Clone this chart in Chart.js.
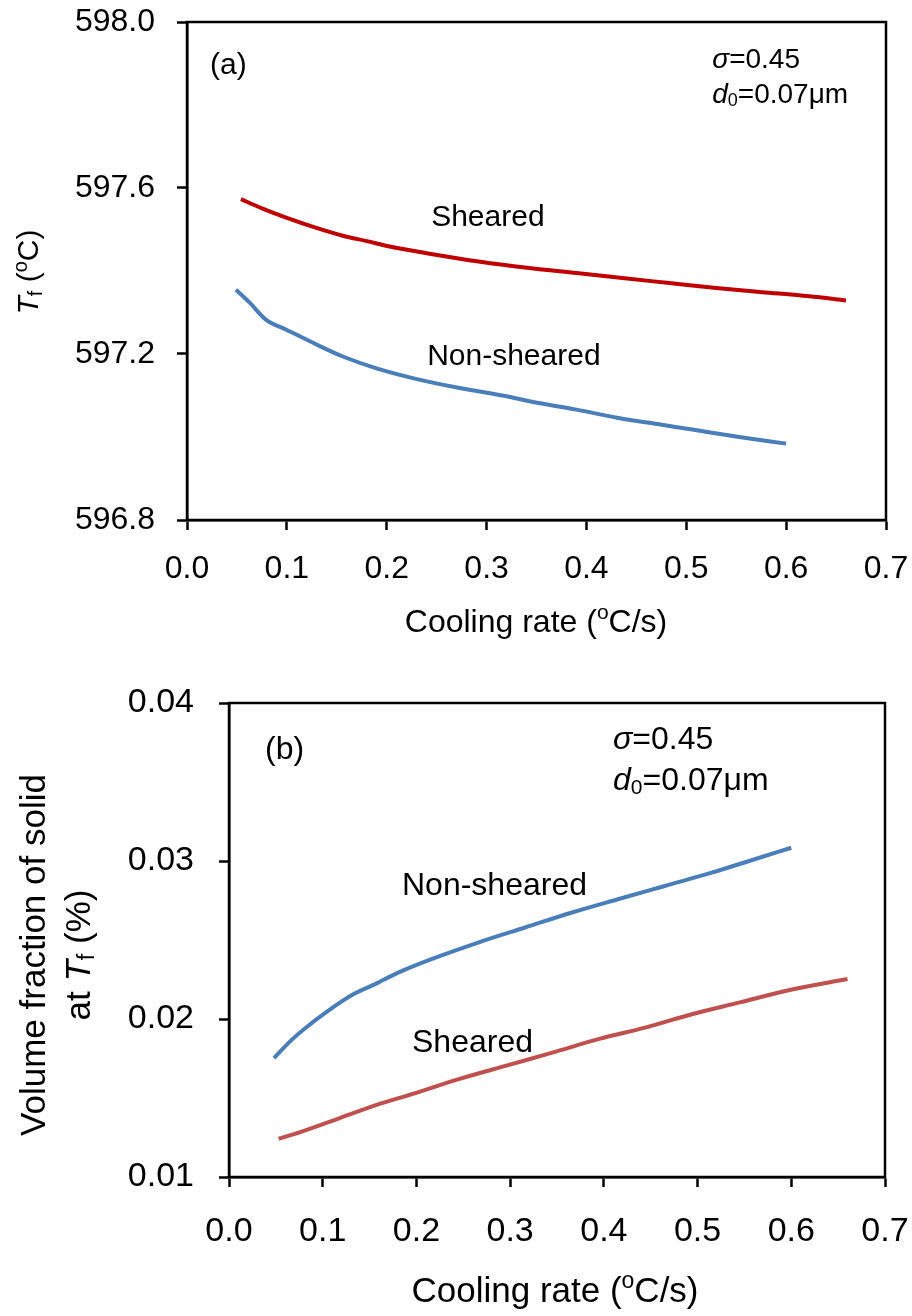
<!DOCTYPE html>
<html>
<head>
<meta charset="utf-8">
<script src="https://cdn.jsdelivr.net/npm/chart.js@4.4.1/dist/chart.umd.min.js"></script>
<style>
  html, body { margin: 0; padding: 0; background: #fff; }
  #wrap { position: relative; width: 912px; height: 1316px; }
  .panel { position: absolute; left: 0; width: 912px; }
  #panelA { top: 0; height: 650px; }
  #panelB { top: 650px; height: 666px; }
</style>
</head>
<body>
<div id="wrap">
  <div class="panel" id="panelA"><canvas id="chartA" width="912" height="650"></canvas></div>
  <div class="panel" id="panelB"><canvas id="chartB" width="912" height="666"></canvas></div>
</div>
<script>
// (a) freezing temperature vs cooling rate
const rateShearedA = [0.054, 0.075, 0.100, 0.128, 0.156, 0.180, 0.203, 0.240, 0.292, 0.343, 0.390, 0.436, 0.483, 0.530, 0.576, 0.623, 0.660];
const tfSheared = [597.573, 597.551, 597.528, 597.505, 597.485, 597.472, 597.459, 597.443, 597.423, 597.407, 597.395, 597.383, 597.371, 597.359, 597.349, 597.339, 597.329];
const rateNonShearedA = [0.049, 0.063, 0.079, 0.100, 0.133, 0.156, 0.189, 0.226, 0.273, 0.320, 0.343, 0.390, 0.432, 0.474, 0.506, 0.553, 0.600];
const tfNonSheared = [597.355, 597.323, 597.283, 597.258, 597.219, 597.194, 597.166, 597.142, 597.118, 597.098, 597.086, 597.066, 597.046, 597.030, 597.018, 597.000, 596.984];

// (b) volume fraction of solid at Tf vs cooling rate
const rateNonShearedB = [0.048, 0.066, 0.078, 0.106, 0.133, 0.156, 0.181, 0.216, 0.266, 0.316, 0.366, 0.415, 0.465, 0.515, 0.555, 0.600];
const fsNonSheared = [0.01752, 0.01863, 0.01926, 0.02053, 0.02158, 0.02221, 0.02295, 0.02379, 0.02484, 0.02579, 0.02674, 0.02758, 0.02842, 0.02926, 0.03000, 0.03084];
const rateShearedB = [0.053, 0.076, 0.116, 0.156, 0.196, 0.246, 0.296, 0.346, 0.395, 0.445, 0.495, 0.545, 0.595, 0.660];
const fsSheared = [0.01242, 0.01284, 0.01368, 0.01453, 0.01526, 0.01621, 0.01705, 0.01789, 0.01874, 0.01947, 0.02032, 0.02105, 0.02179, 0.02253];

// tick labels
const rateTicks = [0, 0.1, 0.2, 0.3, 0.4, 0.5, 0.6, 0.7];
const tfTicks = [596.8, 597.2, 597.6, 598.0];
const fsTicks = [0.01, 0.02, 0.03, 0.04];

const fontFamily = '"Liberation Sans", Arial, sans-serif';
const pairs = (xs, ys) => xs.map((x, i) => ({ x: x, y: ys[i] }));

// draws a string made of runs (italic / subscript / superscript)
function drawRich(ctx, x, y, it) {
  const size = it.size;
  const fontFor = r => (r.italic ? 'italic ' : '') + Math.round((r.sub || r.sup) ? size * 0.65 : size) + 'px ' + fontFamily;
  ctx.save();
  ctx.translate(x, y);
  if (it.rotate) ctx.rotate(it.rotate);
  ctx.fillStyle = '#000';
  ctx.textBaseline = 'middle';
  ctx.textAlign = 'left';
  let w = 0;
  it.runs.forEach(r => { ctx.font = fontFor(r); w += ctx.measureText(r.t).width; });
  let cx = it.align === 'center' ? -w / 2 : 0;
  it.runs.forEach(r => {
    ctx.font = fontFor(r);
    const dy = r.sub ? size * 0.22 : (r.sup ? -size * 0.3 : 0);
    ctx.fillText(r.t, cx, dy);
    cx += ctx.measureText(r.t).width;
  });
  ctx.restore();
}

// frame round the plot area plus titles and notes
function paperText(items) {
  return {
    id: 'paperText',
    afterDraw(chart) {
      const ctx = chart.ctx;
      const a = chart.chartArea;
      ctx.save();
      ctx.strokeStyle = '#000';
      ctx.lineWidth = 2.5;
      ctx.strokeRect(a.left, a.top, a.right - a.left, a.bottom - a.top);
      ctx.restore();
      items.forEach(it => {
        let x = it.px ? it.px[0] : chart.scales.x.getPixelForValue(it.at[0]);
        let y = it.px ? it.px[1] : chart.scales.y.getPixelForValue(it.at[1]);
        drawRich(ctx, x, y, it);
      });
    }
  };
}

function scaleOpts(min, max, list, digits, fontSize, pad, fit, isX) {
  return {
    type: 'linear',
    min: min,
    max: max,
    afterBuildTicks: ax => { ax.ticks = list.map(v => ({ value: v })); },
    afterFit: ax => {
      if (isX) ax.height = fit; else ax.width = fit;
      // keep the plot box where it is, labels may hang over the edges
      ax.paddingTop = 0; ax.paddingBottom = 0; ax.paddingLeft = 0; ax.paddingRight = 0;
    },
    ticks: {
      color: '#000',
      padding: pad,
      font: { family: fontFamily, size: fontSize },
      callback: v => Number(v).toFixed(digits)
    },
    grid: { display: true, drawOnChartArea: false, drawTicks: true, tickLength: 10, tickWidth: 2.5, tickColor: '#000' },
    border: { display: true, color: '#000', width: 2.5 }
  };
}

function lineSet(label, data, color) {
  return { label: label, data: data, borderColor: color, borderWidth: 4, pointRadius: 0, fill: false, cubicInterpolationMode: 'monotone' };
}

const common = {
  responsive: false,
  animation: false,
  devicePixelRatio: 1,
  plugins: { legend: { display: false }, tooltip: { enabled: false } }
};

const cooling = [{ t: 'Cooling rate (' }, { t: 'o', sup: true }, { t: 'C/s)' }];

new Chart(document.getElementById('chartA'), {
  type: 'line',
  data: {
    datasets: [
      lineSet('Sheared', pairs(rateShearedA, tfSheared), '#C00000'),
      lineSet('Non-sheared', pairs(rateNonShearedA, tfNonSheared), '#4A7EBB')
    ]
  },
  options: Object.assign({}, common, {
    layout: { padding: { top: 22, right: 26, left: 0, bottom: 0 } },
    scales: {
      x: scaleOpts(0, 0.7, rateTicks, 1, 32, 20, 130, true),
      y: scaleOpts(596.8, 598.0, tfTicks, 1, 32, 22, 187, false)
    }
  }),
  plugins: [paperText([
    { at: [0.023, 597.894], size: 30, runs: [{ t: '(a)' }] },
    { at: [0.526, 597.908], size: 28, runs: [{ t: 'σ', italic: true }, { t: '=0.45' }] },
    { at: [0.526, 597.824], size: 28, runs: [{ t: 'd', italic: true }, { t: '0', sub: true }, { t: '=0.07μm' }] },
    { at: [0.2445, 597.528], size: 30, runs: [{ t: 'Sheared' }] },
    { at: [0.2405, 597.193], size: 30, runs: [{ t: 'Non-sheared' }] },
    { px: [536, 623], size: 32, align: 'center', runs: cooling },
    { px: [30, 272], size: 30, align: 'center', rotate: -Math.PI / 2,
      runs: [{ t: 'T', italic: true }, { t: 'f', sub: true }, { t: ' (' }, { t: 'o', sup: true }, { t: 'C)' }] }
  ])]
});

new Chart(document.getElementById('chartB'), {
  type: 'line',
  data: {
    datasets: [
      lineSet('Non-sheared', pairs(rateNonShearedB, fsNonSheared), '#4A7EBB'),
      lineSet('Sheared', pairs(rateShearedB, fsSheared), '#C0504D')
    ]
  },
  options: Object.assign({}, common, {
    layout: { padding: { top: 53, right: 27, left: 0, bottom: 0 } },
    scales: {
      x: scaleOpts(0, 0.7, rateTicks, 1, 34, 24, 139, true),
      y: scaleOpts(0.01, 0.04, fsTicks, 2, 34, 25, 229, false)
    }
  }),
  plugins: [paperText([
    { at: [0.0384, 0.03703], size: 32, runs: [{ t: '(b)' }] },
    { at: [0.4098, 0.03766], size: 32, runs: [{ t: 'σ', italic: true }, { t: '=0.45' }] },
    { at: [0.4098, 0.03506], size: 32, runs: [{ t: 'd', italic: true }, { t: '0', sub: true }, { t: '=0.07μm' }] },
    { at: [0.1846, 0.02842], size: 32, runs: [{ t: 'Non-sheared' }] },
    { at: [0.1953, 0.01848], size: 32, runs: [{ t: 'Sheared' }] },
    { px: [555, 642], size: 35, align: 'center', runs: cooling },
    { px: [35, 305], size: 35, align: 'center', rotate: -Math.PI / 2, runs: [{ t: 'Volume fraction of solid' }] },
    { px: [80, 305], size: 35, align: 'center', rotate: -Math.PI / 2,
      runs: [{ t: 'at ' }, { t: 'T', italic: true }, { t: 'f', sub: true }, { t: ' (%)' }] }
  ])]
});
</script>
</body>
</html>
